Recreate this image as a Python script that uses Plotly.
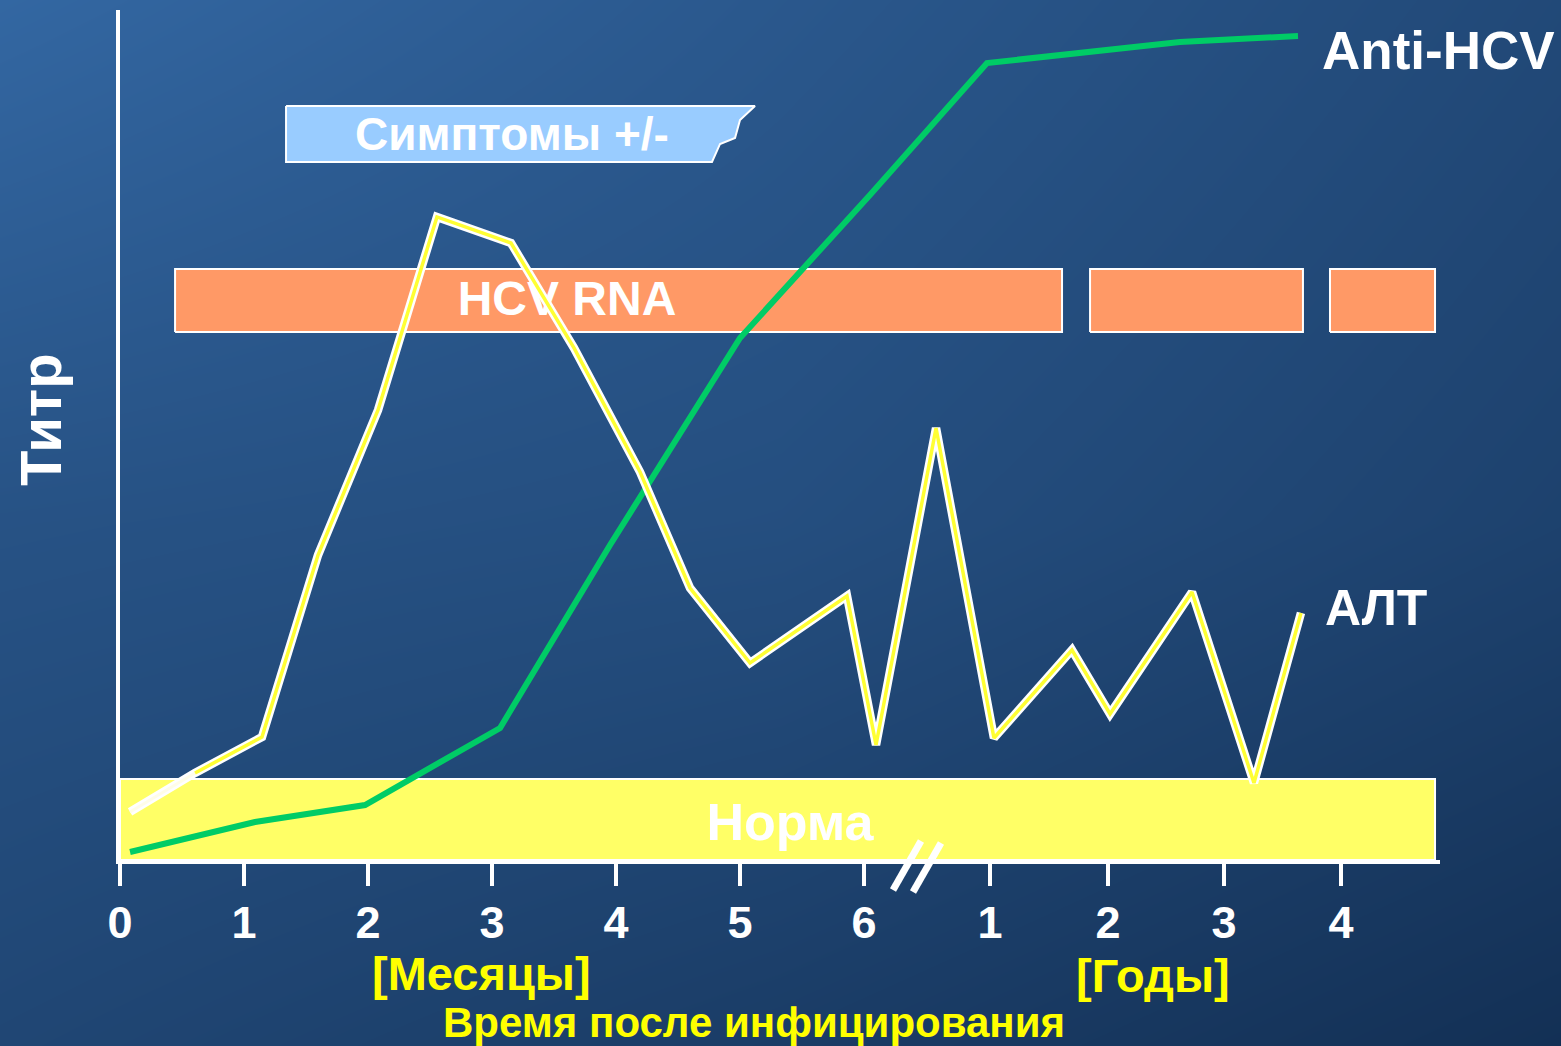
import plotly.graph_objects as go

# ---------------- data ----------------
# x is in "month-position" units (0..6 months, then years after the break)
tick_pos = [0, 1, 2, 3, 4, 5, 6, 7.016, 7.968, 8.903, 9.847]
tick_text = ["0", "1", "2", "3", "4", "5", "6", "1", "2", "3", "4"]

alt_x = [0.081, 0.605, 1.145, 1.597, 2.081, 2.556, 3.153, 3.661, 4.194, 4.597,
         5.081, 5.863, 6.097, 6.581, 7.048, 7.677, 7.984, 8.645, 9.145, 9.524]
alt_y = [5.65, 10.24, 14.47, 35.88, 52.94, 75.65, 72.59, 60.24, 45.65, 32.0,
         23.18, 31.06, 13.53, 50.82, 14.35, 24.71, 17.18, 31.53, 9.06, 29.06]

anti_x = [0.081, 1.089, 1.976, 3.065, 3.952, 5.0, 6.048, 6.992, 8.548, 9.5]
anti_y = [0.94, 4.47, 6.47, 15.53, 37.06, 61.41, 78.24, 93.76, 96.24, 96.94]

rna_start = [0.444, 7.823, 9.758]
rna_end = [7.597, 9.540, 10.605]
rna_low, rna_high = 62.12, 69.53

norm_start, norm_end = 0.0, 10.605
norm_low, norm_high = 0.0, 9.53

sym_x = [1.339, 5.121, 5.0, 4.96, 4.839, 4.774, 1.339, 1.339]
sym_y = [88.71, 88.71, 87.06, 84.94, 84.24, 82.12, 82.12, 88.71]

FONT = "Liberation Sans, Arial, sans-serif"
W, H = 1561, 1046

fig = go.Figure()

# background gradient (first subplot, full page)
bg_z = [[0.40, 0.22, 0.0],
        [0.62, 0.55, 0.32],
        [1.0, 0.72, 0.45]]
fig.add_trace(go.Heatmap(z=bg_z, x=[0, 1, 2], y=[0, 1, 2], zsmooth="best",
                         showscale=False, hoverinfo="skip",
                         colorscale=[[0, "#133055"], [1, "#3367a2"]],
                         xaxis="x", yaxis="y"))

# normal range band
fig.add_trace(go.Scatter(
    x=[norm_start, norm_end, norm_end, norm_start, norm_start],
    y=[norm_low, norm_low, norm_high, norm_high, norm_low],
    fill="toself", fillcolor="#ffff66", mode="lines",
    line=dict(color="white", width=2), hoverinfo="skip", showlegend=False,
    xaxis="x2", yaxis="y2"))

# HCV RNA bars
rx, ry = [], []
for s, e in zip(rna_start, rna_end):
    rx += [s, e, e, s, s, None]
    ry += [rna_low, rna_low, rna_high, rna_high, rna_low, None]
fig.add_trace(go.Scatter(x=rx, y=ry, fill="toself", fillcolor="#ff9966",
                         mode="lines", line=dict(color="white", width=2),
                         hoverinfo="skip", showlegend=False,
                         xaxis="x2", yaxis="y2"))

# symptoms banner
fig.add_trace(go.Scatter(x=sym_x, y=sym_y, fill="toself", fillcolor="#99ccff",
                         mode="lines", line=dict(color="white", width=2),
                         hoverinfo="skip", showlegend=False,
                         xaxis="x2", yaxis="y2"))

# labels inside plot
fig.add_trace(go.Scatter(
    x=[5.403, 3.605, 3.161], y=[3.9, 65.5, 84.9],
    text=["<b>Норма</b>", "<b>HCV RNA</b>", "<b>Симптомы +/-</b>"],
    mode="text", textposition="middle center",
    textfont=dict(family=FONT, size=[52, 48, 46], color="white"),
    hoverinfo="skip", showlegend=False, xaxis="x2", yaxis="y2"))

# Anti-HCV line
fig.add_trace(go.Scatter(x=anti_x, y=anti_y, mode="lines",
                         line=dict(color="#00cc66", width=6),
                         hoverinfo="skip", showlegend=False,
                         xaxis="x2", yaxis="y2"))

# ALT line: white outline + yellow core
fig.add_trace(go.Scatter(x=alt_x, y=alt_y, mode="lines",
                         line=dict(color="white", width=8.5),
                         hoverinfo="skip", showlegend=False,
                         xaxis="x2", yaxis="y2"))
fig.add_trace(go.Scatter(x=alt_x[:2], y=alt_y[:2], mode="lines",
                         line=dict(color="#fffde8", width=3),
                         hoverinfo="skip", showlegend=False,
                         xaxis="x2", yaxis="y2"))
fig.add_trace(go.Scatter(x=alt_x[1:], y=alt_y[1:], mode="lines",
                         line=dict(color="#ffff33", width=3.5),
                         hoverinfo="skip", showlegend=False,
                         xaxis="x2", yaxis="y2"))

x_dom = [120 / W, 1440 / W]
y_dom = [(H - 860) / H, (H - 10) / H]

fig.update_layout(
    width=W, height=H,
    margin=dict(l=0, r=0, t=0, b=0, pad=0),
    paper_bgcolor="#1f4670",
    plot_bgcolor="rgba(0,0,0,0)",
    showlegend=False,
    xaxis=dict(domain=[0, 1], range=[0, 2], visible=False, fixedrange=True),
    yaxis=dict(domain=[0, 1], range=[0, 2], visible=False, fixedrange=True),
    xaxis2=dict(domain=x_dom, range=[0, (1440 - 120) / 124], anchor="y2",
                showgrid=False, zeroline=False, automargin=False,
                showline=True, linecolor="white", linewidth=4,
                ticks="outside", ticklen=22, tickwidth=4, tickcolor="white",
                tickmode="array", tickvals=tick_pos,
                ticktext=["<b>%s</b>" % t for t in tick_text],
                ticklabelstandoff=-2,
                tickfont=dict(family=FONT, size=45, color="white")),
    yaxis2=dict(domain=y_dom, range=[0, 100], anchor="x2", automargin=False,
                showgrid=False, zeroline=False, showticklabels=False,
                showline=True, linecolor="white", linewidth=4, ticks=""),
)

# axis break marks
for x0, y0, x1, y1 in [(893, 890, 921, 841), (913, 892, 941, 843)]:
    fig.add_shape(type="line", xref="paper", yref="paper",
                  x0=x0 / W, y0=1 - y0 / H, x1=x1 / W, y1=1 - y1 / H,
                  line=dict(color="white", width=7))


def ann(text, px, py, size, color="white", angle=0):
    fig.add_annotation(text="<b>%s</b>" % text, xref="paper", yref="paper",
                       x=px / W, y=1 - py / H, showarrow=False,
                       xanchor="center", yanchor="middle", textangle=angle,
                       font=dict(family=FONT, size=size, color=color))


ann("Anti-HCV", 1438, 50, 53)
ann("АЛТ", 1376, 608, 50)
ann("Титр", 40, 420, 58, angle=-90)
ann("[Месяцы]", 481, 973, 47, color="#ffff00")
ann("[Годы]", 1153, 975, 47, color="#ffff00")
ann("Время после инфицирования", 754, 1022, 42, color="#ffff00")

fig.write_html(
    "out.html",
    config={"displayModeBar": False},
    post_script="document.body.style.margin='0px';"
                "document.body.style.padding='0px';"
                "document.body.style.overflow='hidden';",
)
